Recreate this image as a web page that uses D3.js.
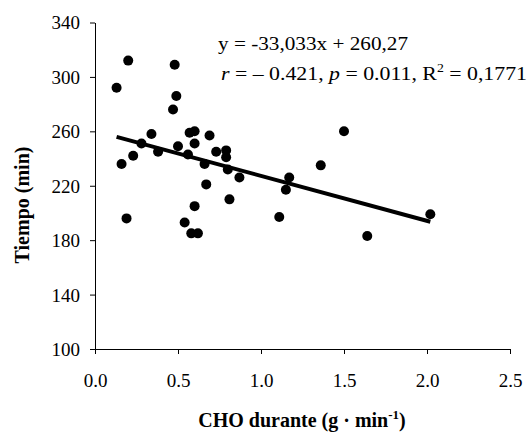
<!DOCTYPE html>
<html>
<head>
<meta charset="utf-8">
<script src="https://cdn.jsdelivr.net/npm/d3@7"></script>
<style>
  body { margin: 0; background: #fff; }
  svg text { font-family: "Liberation Serif", "Times New Roman", serif; fill: #000; }
</style>
</head>
<body>
<div id="chart"></div>
<script>
// CHO durante (g/min) vs Tiempo (min)
var choValues = [0.13, 0.20, 0.48, 0.49, 0.47, 0.34, 0.60, 0.57, 0.28, 0.60,
                 0.50, 0.69, 0.38, 0.73, 0.79, 0.79, 0.23, 0.56, 0.16, 0.66,
                 0.80, 0.87, 1.17, 1.15, 1.36, 1.50, 0.67, 0.81, 0.60, 0.19,
                 1.11, 0.54, 0.58, 0.62, 1.64, 2.02]
var tiempoValues = [292, 312, 309, 286, 276, 258, 260, 259, 251, 251,
                    249, 257, 245, 245, 246, 241, 242, 243, 236, 236,
                    232, 226, 226, 217, 235, 260, 221, 210, 205, 196,
                    197, 193, 185, 185, 183, 199]
// trendline from the label
var slope = -33.033
var intercept = 260.27
var xTicks = [0.0, 0.5, 1.0, 1.5, 2.0, 2.5]
var yTicks = [100, 140, 180, 220, 260, 300, 340]

var width = 532, height = 436
var margin = { top: 22.5, right: 22, bottom: 87, left: 95 }

var svg = d3.select("#chart").append("svg")
    .attr("width", width)
    .attr("height", height)

var x = d3.scaleLinear()
    .domain([0, 2.5])
    .range([margin.left, width - margin.right])
var y = d3.scaleLinear()
    .domain([100, 340])
    .range([height - margin.bottom, margin.top])

// axes
var xAxis = svg.append("g")
    .attr("transform", "translate(0," + y(100) + ")")
    .call(d3.axisBottom(x).tickValues(xTicks).tickFormat(d3.format(".1f")).tickSize(5).tickSizeOuter(0).tickPadding(20))
var yAxis = svg.append("g")
    .attr("transform", "translate(" + x(0) + ",0)")
    .call(d3.axisLeft(y).tickValues(yTicks).tickSize(5).tickSizeOuter(0).tickPadding(10))

svg.selectAll(".domain, .tick line").attr("stroke", "#000").attr("stroke-width", 1)
svg.selectAll(".tick text").style("font-size", "19px").attr("fill", "#000")
yAxis.selectAll(".tick text").attr("dy", "0.34em")

// points
var points = choValues.map(function (d, i) { return { cho: d, t: tiempoValues[i] } })
svg.selectAll("circle")
    .data(points)
    .enter()
    .append("circle")
    .attr("cx", function (d) { return x(d.cho) })
    .attr("cy", function (d) { return y(d.t) })
    .attr("r", 5)
    .attr("fill", "#000")

// trendline
var x0 = d3.min(choValues), x1 = d3.max(choValues)
svg.append("line")
    .attr("x1", x(x0)).attr("y1", y(slope * x0 + intercept))
    .attr("x2", x(x1)).attr("y2", y(slope * x1 + intercept))
    .attr("stroke", "#000")
    .attr("stroke-width", 4)

// equation
svg.append("text")
    .attr("x", 218).attr("y", 50)
    .attr("textLength", 190).attr("lengthAdjust", "spacingAndGlyphs")
    .style("font-size", "19px")
    .text("y = -33,033x + 260,27")

var eq2 = svg.append("text")
    .attr("x", 221).attr("y", 80)
    .attr("textLength", 306).attr("lengthAdjust", "spacingAndGlyphs")
    .style("font-size", "19px")
eq2.append("tspan").style("font-style", "italic").text("r")
eq2.append("tspan").text(" = \u2013 0.421, ")
eq2.append("tspan").style("font-style", "italic").text("p")
eq2.append("tspan").text(" = 0.011, R")
eq2.append("tspan").attr("dy", -8).style("font-size", "12px").text("2")
eq2.append("tspan").attr("dy", 8).text(" = 0,1771")

// axis labels
var xl = svg.append("text")
    .attr("x", 302).attr("y", 426.5)
    .attr("text-anchor", "middle")
    .style("font-size", "20px")
    .style("font-weight", "bold")
xl.append("tspan").text("CHO durante (g \u00b7 min")
xl.append("tspan").attr("dy", -8).style("font-size", "13px").text("-1")
xl.append("tspan").attr("dy", 8).text(")")

svg.append("text")
    .attr("transform", "translate(29,205) rotate(-90)")
    .attr("text-anchor", "middle")
    .style("font-size", "20px")
    .style("font-weight", "bold")
    .text("Tiempo (min)")
</script>
</body>
</html>
